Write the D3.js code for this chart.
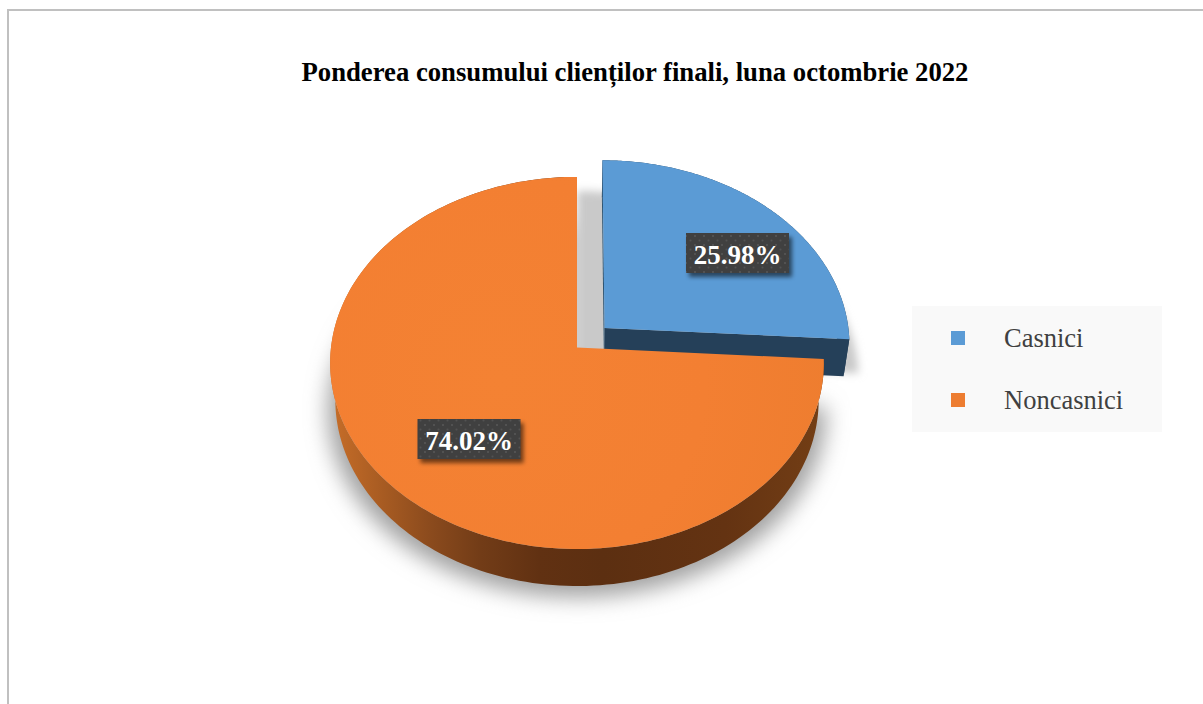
<!DOCTYPE html>
<html><head><meta charset="utf-8">
<style>html,body{margin:0;padding:0;background:#fff;overflow:hidden}svg{display:block}</style>
<script src="https://cdn.jsdelivr.net/npm/d3@7"></script></head><body>
<script>
const titleText = "Ponderea consumului clienților finali, luna octombrie 2022";
const categories = ["Casnici", "Noncasnici"];
const values = [25.98, 74.02];
const valueLabels = ["25.98%", "74.02%"];
const topColors = ["#5b9bd5", "#f27f32"];
const legendColors = ["#5b9bd5", "#ed7d31"];
const explode = [0.155, 0];

const W = 1203, H = 704;
const svg = d3.select("body").append("svg").attr("width", W).attr("height", H);
const defs = svg.append("defs");

// perspective camera for the disc
const apex = {x: 577, y: 347.5}, A = 246, B = 184.8, K = -0.0831;
const depth = 37, wallScale = 0.979;
function project(x, y, low) {
  const w = 1 + K * y;
  const X = A * x / w, Y = B * y / w;
  return low ? [apex.x + X * wallScale, apex.y + Y + depth] : [apex.x + X, apex.y + Y];
}
const pie = d3.pie().sort(null).startAngle(0).endAngle(2 * Math.PI);
const slices = pie(values);
const line = d3.line();

function geom(s, e) {
  const mid = (s.startAngle + s.endAngle) / 2;
  const ox = e * Math.sin(mid), oy = -e * Math.cos(mid);
  const n = 180, angles = d3.range(n + 1).map(k => s.startAngle + (s.endAngle - s.startAngle) * k / n);
  const rim = low => angles.map(a => project(ox + Math.sin(a), oy - Math.cos(a), low));
  const ap = low => project(ox, oy, low);
  return {top: [ap(false), ...rim(false)], rimTop: rim(false), rimLow: rim(true), apT: ap(false), apL: ap(true)};
}
const geoms = slices.map((s, i) => geom(s, explode[i]));

// filters, gradients, pattern
const blur = (id, sd) => defs.append("filter").attr("id", id).attr("x", "-30%").attr("y", "-50%").attr("width", "160%").attr("height", "200%")
  .append("feGaussianBlur").attr("stdDeviation", sd);
blur("blurA", 11); blur("blurC", 4); blur("blurB", 2.2);
const wallG = defs.append("linearGradient").attr("id", "wallOrange").attr("gradientUnits", "userSpaceOnUse")
  .attr("x1", 335).attr("x2", 822).attr("y1", 0).attr("y2", 0);
[[0, "#c46c28"], [0.1, "#a75b22"], [0.2, "#8a4a1d"], [0.3, "#723c17"], [0.42, "#613112"], [0.55, "#5c2f11"], [0.8, "#643312"], [1, "#733e15"]]
  .forEach(d => wallG.append("stop").attr("offset", d[0]).attr("stop-color", d[1]));
const topG = defs.append("radialGradient").attr("id", "topOrange").attr("gradientUnits", "userSpaceOnUse")
  .attr("cx", 500).attr("cy", 380).attr("r", 340);
[[0, "#f48233"], [0.6, "#f37f32"], [1, "#ee7d2f"]].forEach(d => topG.append("stop").attr("offset", d[0]).attr("stop-color", d[1]));
const pat = defs.append("pattern").attr("id", "dots").attr("patternUnits", "userSpaceOnUse").attr("width", 9).attr("height", 9);
pat.append("rect").attr("width", 9).attr("height", 9).attr("fill", "#404040");
pat.append("circle").attr("cx", 2).attr("cy", 2).attr("r", 1).attr("fill", "#585858");
pat.append("circle").attr("cx", 6.5).attr("cy", 6.5).attr("r", 1).attr("fill", "#525252");

// frame
svg.append("rect").attr("x", 8).attr("y", 10).attr("width", W).attr("height", H).attr("fill", "#fff")
  .attr("stroke", "#c0c0c0").attr("stroke-width", 2);

// title
svg.append("text").attr("x", 635).attr("y", 81).attr("text-anchor", "middle")
  .attr("font-family", "'Liberation Serif'").attr("font-weight", "bold").attr("font-size", 26.7)
  .attr("fill", "#000").text(titleText);

// soft shadow of the big slice below the pie
const grow = 1.03;
const shadowPts = [geoms[1].apL, ...geoms[1].rimLow].map(p => [apex.x + (p[0] - apex.x) * grow, p[1] + 11]);
svg.append("path").attr("d", line(shadowPts) + "Z").attr("fill", "#a0a0a0").attr("filter", "url(#blurA)");
// shadow of the exploded slice: fills the gap between the slices and shows past its tip
const seated = geom(slices[0], 0);
const shadowB = svg.append("g").attr("filter", "url(#blurC)").attr("fill", "#c9c9c9");
shadowB.append("path").attr("d", line(seated.top.map(p => [p[0], p[1] + 14])) + "Z");
shadowB.append("path").attr("d", line(geoms[0].top.map(p => [p[0] + 9, p[1] + 34])) + "Z");

// walls and tops
const wallFill = ["#254059", "url(#wallOrange)"];
[0, 1].forEach(i => {
  const g = geoms[i];
  const wall = [...g.rimTop, ...g.rimLow.slice().reverse()];
  svg.append("path").attr("d", line(wall) + "Z").attr("fill", wallFill[i]);
  if (i === 0) {
    const last = g.rimTop.length - 1;
    svg.append("path").attr("d", line([g.apT, g.rimTop[last], g.rimLow[last], g.apL]) + "Z").attr("fill", wallFill[i]);
    svg.append("path").attr("d", line([g.apT, g.rimTop[0], g.rimLow[0], g.apL]) + "Z").attr("fill", "#2f5573");
  }
  svg.append("path").attr("d", line(g.top) + "Z")
    .attr("fill", i === 1 ? "url(#topOrange)" : topColors[i]);
});

// data labels
const labelBox = {w: 103, h: 40};
const labelCentres = [[737.5, 253], [469, 439]];
valueLabels.forEach((t, i) => {
  const [cx, cy] = labelCentres[i];
  svg.append("rect").attr("x", cx - labelBox.w / 2 + 3).attr("y", cy - labelBox.h / 2 + 4)
    .attr("width", labelBox.w).attr("height", labelBox.h).attr("fill", "#000").attr("opacity", 0.55).attr("filter", "url(#blurB)");
  svg.append("rect").attr("x", cx - labelBox.w / 2).attr("y", cy - labelBox.h / 2)
    .attr("width", labelBox.w).attr("height", labelBox.h).attr("fill", "url(#dots)");
  svg.append("text").attr("x", cx).attr("y", cy + 10.5).attr("text-anchor", "middle")
    .attr("font-family", "'Liberation Serif'").attr("font-weight", "bold").attr("font-size", 27)
    .attr("fill", "#fff").text(t);
});

// legend
svg.append("rect").attr("x", 912).attr("y", 306).attr("width", 250).attr("height", 126).attr("fill", "#f9f9f9");
const legendY = d3.scalePoint().domain(categories).range([338, 400]);
categories.forEach((c, i) => {
  const y = legendY(c);
  svg.append("rect").attr("x", 951).attr("y", y - 7).attr("width", 14).attr("height", 14).attr("fill", legendColors[i]);
  svg.append("text").attr("x", 1004).attr("y", y + 8.5).attr("font-family", "'Liberation Serif'")
    .attr("font-size", 26.5).attr("fill", "#404040").text(c);
});
</script></body></html>
